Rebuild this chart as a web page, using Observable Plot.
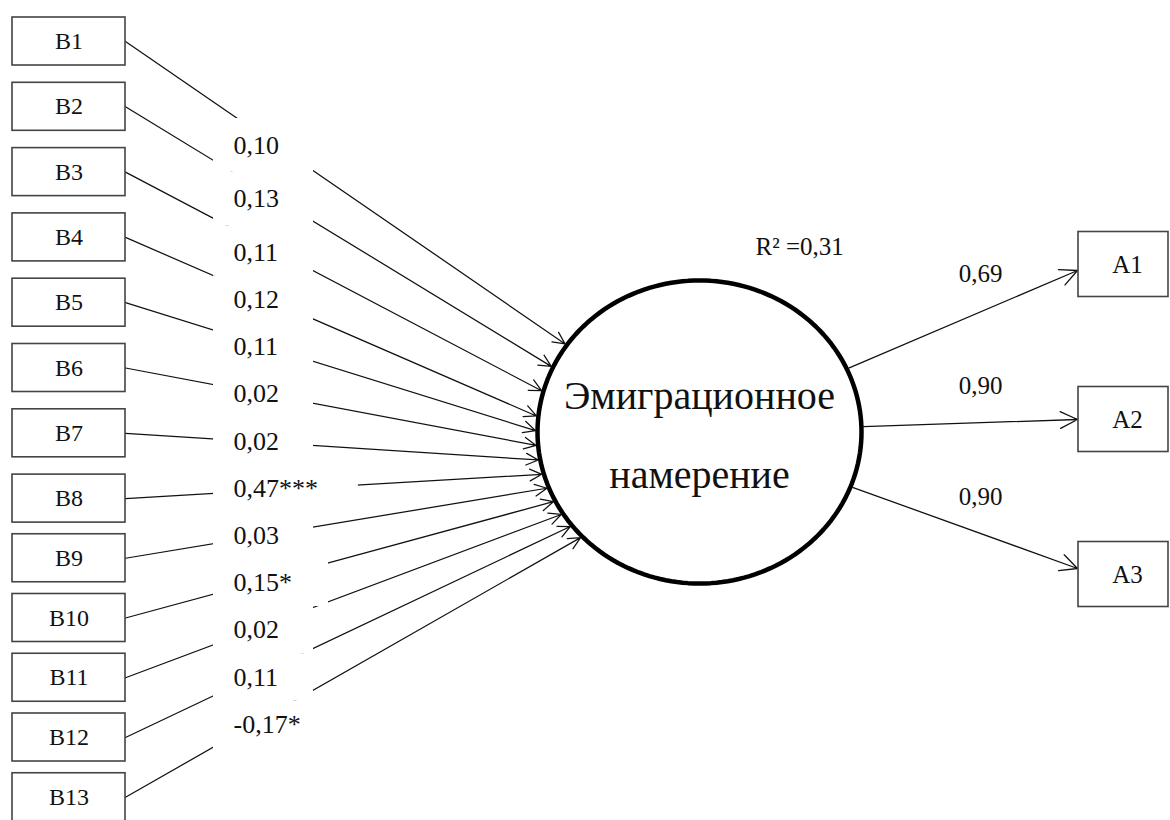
<!DOCTYPE html>
<html>
<head>
<meta charset="utf-8">
<script src="https://cdn.jsdelivr.net/npm/d3@7"></script>
<script src="https://cdn.jsdelivr.net/npm/@observablehq/plot@0.6"></script>
<style>
html, body { margin: 0; padding: 0; background: #fff; overflow: hidden; }
</style>
</head>
<body>
<div id="chart"></div>
<script>
// ---- data ----
const predictors = ["B1","B2","B3","B4","B5","B6","B7","B8","B9","B10","B11","B12","B13"];
const pathValues = [0.10, 0.13, 0.11, 0.12, 0.11, 0.02, 0.02, 0.47, 0.03, 0.15, 0.02, 0.11, -0.17];
const pathStars  = ["", "", "", "", "", "", "", "***", "", "*", "", "", "*"];
const indicators = ["A1","A2","A3"];
const loadingValues = [0.69, 0.90, 0.90];
const latentName = ["Эмиграционное", "намерение"];
const rSquaredValue = 0.31;

// ---- layout (pixel space) ----
const W = 1170, H = 820;
const fmt = v => v.toFixed(2).replace(".", ",");
const boxY = i => i <= 7 ? 41 + 65.3 * i : 498 + 59.75 * (i - 7);
const labelY = i => i <= 2 ? 145 + 53.5 * i : 252 + 47.2 * (i - 2);
const C = {x: 699, y: 431.5, rx: 162, ry: 151.5};
const deg = Math.PI / 180;
const tipAngle = i => (i < 3 ? -35 + 9.7 * i : -6 + 5.5 * (i - 3)) * deg;
const labelX = 233, colLeft = 213;
const charW = ch => (ch === "," ? 0.25 : ch === "-" ? 0.333 : 0.5);
const textW = (s, fs) => [...s].reduce((a, c) => a + charW(c), 0) * fs;
const coefFs = 26;

const rows = predictors.map((name, i) => {
  const t = tipAngle(i);
  const label = fmt(pathValues[i]) + pathStars[i];
  const w = textW(label, coefFs);
  return {
    name, label,
    y: boxY(i),
    tx: C.x - (C.rx + 2) * Math.cos(t),
    ty: C.y + (C.ry + 2) * Math.sin(t),
    ly: labelY(i),
    rr: 313 + Math.max(0, w - 45.5) * 1.15
  };
});
rows.forEach((d, i) => {
  d.top = i === 0 ? d.ly - 27 : (rows[i - 1].ly + d.ly) / 2;
  d.bot = i === rows.length - 1 ? d.ly + 24 : (d.ly + rows[i + 1].ly) / 2;
});

const aBoxY = i => 264 + 155 * i;
const aRows = indicators.map((name, i) => {
  const cy = aBoxY(i);
  const tx = 1077, ty = cy - 6 * (i - 1);
  const t = Math.atan2((ty - C.y) / C.ry, (tx - C.x) / C.rx);
  return {
    name, cy, tx, ty,
    sx: C.x + (C.rx + 2) * Math.cos(t),
    sy: C.y + (C.ry + 2) * Math.sin(t),
    label: fmt(loadingValues[i]),
    ly: 273.5 + 111.5 * i
  };
});

const ellipse = d3.range(0, 360, 2).map(a => ({
  x: C.x + C.rx * Math.cos(a * deg),
  y: C.y + C.ry * Math.sin(a * deg)
}));

const chart = Plot.plot({
  width: W, height: H,
  margin: 0,
  x: {domain: [0, W], range: [0, W], axis: null},
  y: {domain: [0, H], range: [0, H], axis: null},
  marks: [
    Plot.arrow(rows, {x1: 125, y1: "y", x2: "tx", y2: "ty", stroke: "#111", strokeWidth: 1.25, headLength: 16, headAngle: 52}),
    Plot.rect(rows, {x1: colLeft, x2: "rr", y1: "top", y2: "bot", fill: "#fff"}),
    Plot.text(rows, {x: labelX, y: "ly", text: "label", textAnchor: "start", fontSize: coefFs, fontFamily: "Times New Roman", fill: "#111"}),
    Plot.rect(rows, {x1: 12, x2: 125, y1: d => d.y - 24, y2: d => d.y + 24, fill: "#fff", stroke: "#444", strokeWidth: 1.6}),
    Plot.text(rows, {x: 68.5, y: "y", text: "name", fontSize: 24, fontFamily: "Times New Roman", fill: "#111"}),
    Plot.line(ellipse, {x: "x", y: "y", curve: "linear-closed", stroke: "#000", strokeWidth: 4.5}),
    Plot.text(latentName, {x: C.x, y: (d, i) => 395.5 + 79 * i, text: d => d, fontSize: 40, fontFamily: "Times New Roman", fill: "#111"}),
    Plot.text([rSquaredValue], {x: 755, y: 246, text: d => "R² =" + fmt(d), textAnchor: "start", fontSize: 25, fontFamily: "Times New Roman", fill: "#111"}),
    Plot.arrow(aRows, {x1: "sx", y1: "sy", x2: "tx", y2: "ty", stroke: "#111", strokeWidth: 1.3, headLength: 22, headAngle: 52}),
    Plot.rect(aRows, {x1: 1078, x2: 1168, y1: d => d.cy - 32.5, y2: d => d.cy + 32.5, fill: "#fff", stroke: "#444", strokeWidth: 1.6}),
    Plot.text(aRows, {x: 1127, y: "cy", text: "name", fontSize: 25, fontFamily: "Times New Roman", fill: "#111"}),
    Plot.text(aRows, {x: 980, y: "ly", text: "label", fontSize: 25, fontFamily: "Times New Roman", fill: "#111"})
  ]
});
document.getElementById("chart").appendChild(chart);
</script>
</body>
</html>
